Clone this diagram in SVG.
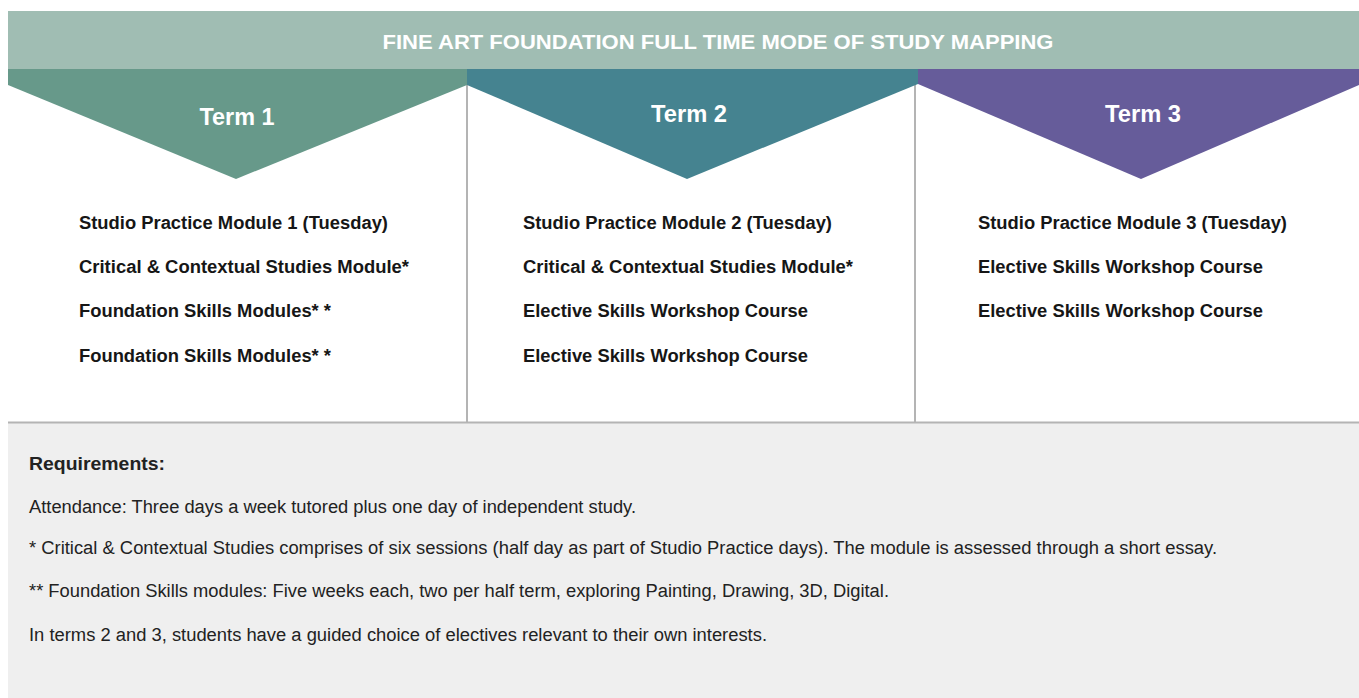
<svg xmlns="http://www.w3.org/2000/svg" width="1359" height="698" viewBox="0 0 1359 698">
<style>
.hdr{font-family:"Liberation Sans",Arial,sans-serif;font-weight:bold;fill:#ffffff}
.item{font-family:"Liberation Sans",Arial,sans-serif;font-weight:bold;font-size:18px;fill:#161616}
.req{font-family:"Liberation Sans",Arial,sans-serif;font-size:18px;fill:#222222}
.div{stroke:#b4b4b4;stroke-width:2;fill:none}
</style>
<rect x="0" y="0" width="1359" height="698" fill="#ffffff"/>
<g id="title">
<rect x="8" y="11" width="1351" height="58" fill="#a0bdb3"/>
<text class="hdr" x="718" y="49" font-size="21" text-anchor="middle" textLength="671" lengthAdjust="spacingAndGlyphs">FINE ART FOUNDATION FULL TIME MODE OF STUDY MAPPING</text>
</g>
<g id="connectors">
<line class="div" x1="467" y1="85" x2="467" y2="422"/>
<line class="div" x1="915" y1="84" x2="915" y2="422"/>
</g>
<g id="term1">
<polygon points="8,69 467,69 467,85 236,179 8,85" fill="#67998a"/>
<text class="hdr" x="237" y="125" font-size="24" text-anchor="middle" textLength="75" lengthAdjust="spacingAndGlyphs">Term 1</text>
<text class="item" x="79" y="229" textLength="309" lengthAdjust="spacingAndGlyphs">Studio Practice Module 1 (Tuesday)</text>
<text class="item" x="79" y="273" textLength="330" lengthAdjust="spacingAndGlyphs">Critical &amp; Contextual Studies Module*</text>
<text class="item" x="79" y="317" textLength="252" lengthAdjust="spacingAndGlyphs">Foundation Skills Modules* *</text>
<text class="item" x="79" y="362" textLength="252" lengthAdjust="spacingAndGlyphs">Foundation Skills Modules* *</text>
</g>
<g id="term2">
<polygon points="467,69 918,69 918,84 687,179 467,85" fill="#458390"/>
<text class="hdr" x="689" y="122" font-size="24" text-anchor="middle" textLength="76" lengthAdjust="spacingAndGlyphs">Term 2</text>
<text class="item" x="523" y="229" textLength="309" lengthAdjust="spacingAndGlyphs">Studio Practice Module 2 (Tuesday)</text>
<text class="item" x="523" y="273" textLength="330" lengthAdjust="spacingAndGlyphs">Critical &amp; Contextual Studies Module*</text>
<text class="item" x="523" y="317" textLength="285" lengthAdjust="spacingAndGlyphs">Elective Skills Workshop Course</text>
<text class="item" x="523" y="362" textLength="285" lengthAdjust="spacingAndGlyphs">Elective Skills Workshop Course</text>
</g>
<g id="term3">
<polygon points="918,69 1359,69 1359,85 1141,179 918,84" fill="#665c9a"/>
<text class="hdr" x="1143" y="122" font-size="24" text-anchor="middle" textLength="76" lengthAdjust="spacingAndGlyphs">Term 3</text>
<text class="item" x="978" y="229" textLength="309" lengthAdjust="spacingAndGlyphs">Studio Practice Module 3 (Tuesday)</text>
<text class="item" x="978" y="273" textLength="285" lengthAdjust="spacingAndGlyphs">Elective Skills Workshop Course</text>
<text class="item" x="978" y="317" textLength="285" lengthAdjust="spacingAndGlyphs">Elective Skills Workshop Course</text>
</g>
<g id="requirements">
<rect x="8" y="423" width="1351" height="275" fill="#efefef"/>
<line class="div" x1="8" y1="422.5" x2="1359" y2="422.5"/>
<text class="req" x="29" y="470" style="font-weight:bold" fill="#1a1a1a" textLength="136" lengthAdjust="spacingAndGlyphs">Requirements:</text>
<text class="req" x="29" y="513" textLength="607" lengthAdjust="spacingAndGlyphs">Attendance: Three days a week tutored plus one day of independent study.</text>
<text class="req" x="29" y="554" textLength="1188" lengthAdjust="spacingAndGlyphs">* Critical &amp; Contextual Studies comprises of six sessions (half day as part of Studio Practice days). The module is assessed through a short essay.</text>
<text class="req" x="29" y="597" textLength="860" lengthAdjust="spacingAndGlyphs">** Foundation Skills modules: Five weeks each, two per half term, exploring Painting, Drawing, 3D, Digital.</text>
<text class="req" x="29" y="641" textLength="738" lengthAdjust="spacingAndGlyphs">In terms 2 and 3, students have a guided choice of electives relevant to their own interests.</text>
</g>
</svg>
